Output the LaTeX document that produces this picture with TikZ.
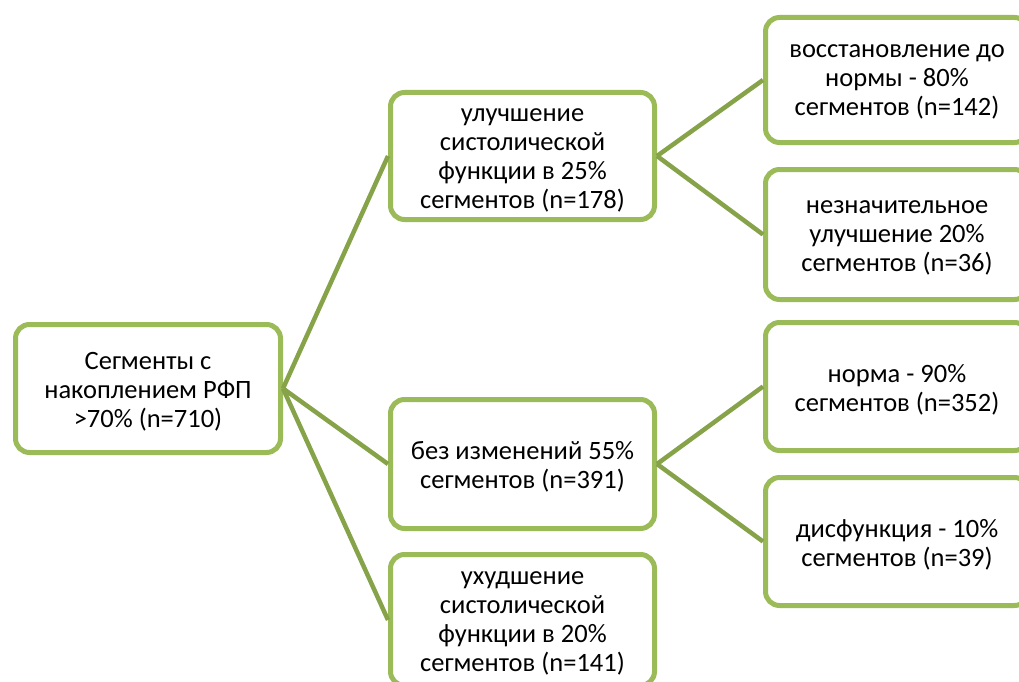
\documentclass[tikz,border=0pt]{standalone}
\usepackage{fontspec}
\setmainfont{Carlito}
\definecolor{boxgreen}{HTML}{9BBB59}
\definecolor{linegreen}{HTML}{86A34A}
\begin{document}
\begin{tikzpicture}[x=1pt,y=-1pt,
  box/.style={draw=boxgreen, line width=5pt, fill=white, rounded corners=14pt, inner sep=0pt},
  txt/.style={align=center, inner sep=0pt, font=\fontsize{26.5}{29}\selectfont, text=black},
  conn/.style={draw=linegreen, line width=4.5pt}]
\useasboundingbox (0,0) rectangle (1019,682);
\clip (0,0) rectangle (1019,682);
\node[box, minimum width=265pt, minimum height=128pt] (root) at (148,388.5) {};
\node[box, minimum width=264pt, minimum height=127pt] (a) at (522.5,156) {};
\node[box, minimum width=264pt, minimum height=129pt] (b) at (522.5,464) {};
\node[box, minimum width=264pt, minimum height=131pt] (c) at (522.5,620) {};
\node[box, minimum width=263pt, minimum height=125pt] (a1) at (897,80) {};
\node[box, minimum width=263pt, minimum height=130pt] (a2) at (897,234.5) {};
\node[box, minimum width=263pt, minimum height=128pt] (b1) at (897,386.5) {};
\node[box, minimum width=263pt, minimum height=128pt] (b2) at (897,541.5) {};
\node[txt] (troot) at ([yshift=-3pt]root.center) {Сегменты с\\накоплением РФП\\>70\% (n=710)};
\node[txt] (ta) at ([yshift=-4pt]a.center) {улучшение\\систолической\\функции в 25\%\\сегментов (n=178)};
\node[txt] (tb) at ([yshift=-3pt]b.center) {без изменений 55\%\\сегментов (n=391)};
\node[txt] (tc) at ([yshift=-3pt]c.center) {ухудшение\\систолической\\функции в 20\%\\сегментов (n=141)};
\node[txt] (ta1) at ([yshift=-2pt]a1.center) {восстановление до\\нормы - 80\%\\сегментов (n=142)};
\node[txt] (ta2) at ([yshift=-3pt]a2.center) {незначительное\\улучшение 20\%\\сегментов (n=36)};
\node[txt] (tb1) at ([yshift=-3pt]b1.center) {норма - 90\%\\сегментов (n=352)};
\node[txt] (tb2) at ([yshift=-3pt]b2.center) {дисфункция - 10\%\\сегментов (n=39)};
\draw[conn] (root.east) -- (a.west);
\draw[conn] (root.east) -- (b.west);
\draw[conn] (root.east) -- (c.west);
\draw[conn] (a.east) -- (a1.west);
\draw[conn] (a.east) -- (a2.west);
\draw[conn] (b.east) -- (b1.west);
\draw[conn] (b.east) -- (b2.west);
\end{tikzpicture}
\end{document}
